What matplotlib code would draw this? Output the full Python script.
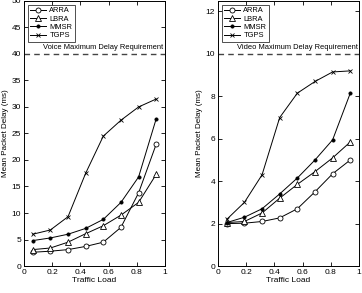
import matplotlib
matplotlib.use("Agg")
import matplotlib.pyplot as plt

plt.rcParams['font.family'] = ['Liberation Sans', 'DejaVu Sans']

loads = [0.0625, 0.1875, 0.3125, 0.4375, 0.5625, 0.6875, 0.8125, 0.9375]
series_names = ["ARRA", "LBRA", "MMSR", "TGPS"]

voice_arra = [2.6, 2.8, 3.1, 3.7, 4.5, 7.3, 13.8, 23.0]
voice_lbra = [3.1, 3.4, 4.5, 6.1, 7.6, 9.6, 12.0, 17.3]
voice_mmsr = [4.8, 5.3, 6.0, 7.1, 8.8, 12.0, 16.8, 27.8]
voice_tgps = [6.0, 6.8, 9.3, 17.5, 24.5, 27.5, 30.0, 31.5]

video_arra = [2.0, 2.02, 2.1, 2.27, 2.7, 3.5, 4.35, 5.0]
video_lbra = [2.05, 2.1, 2.5, 3.2, 3.85, 4.45, 5.1, 5.85]
video_mmsr = [2.05, 2.3, 2.7, 3.4, 4.15, 5.0, 5.95, 8.15]
video_tgps = [2.2, 3.0, 4.3, 7.0, 8.15, 8.7, 9.15, 9.2]

voice_req = 40
video_req = 10

styles = {
    "ARRA": dict(marker='o', mfc='white', ms=3.6),
    "LBRA": dict(marker='^', mfc='white', ms=3.8),
    "MMSR": dict(marker='o', mfc='black', ms=2.3),
    "TGPS": dict(marker='x', mfc='black', ms=2.3),
}

fig = plt.figure(figsize=(3.62, 2.93), dpi=100)
ax1 = fig.add_axes([0.066, 0.092, 0.390, 0.905])
ax2 = fig.add_axes([0.602, 0.092, 0.390, 0.905])

def draw(ax, data, req, ylim, yticks, reqtext, sub):
    for name, vals in zip(series_names, data):
        ax.plot(loads, vals, color='black', lw=0.7, mec='black', mew=0.6,
                label=name, **styles[name])
    ax.axhline(req, color='#444444', ls=(0, (4, 3)), lw=1.0)
    ax.text(0.56, req + ylim[1] * 0.012, reqtext, ha='center', va='bottom', fontsize=5.4)
    ax.set_xlim(0, 1)
    ax.set_ylim(*ylim)
    ax.set_yticks(yticks)
    ax.set_xticks([0, 0.2, 0.4, 0.6, 0.8, 1])
    ax.set_xticklabels(['0', '0.2', '0.4', '0.6', '0.8', '1'])
    ax.tick_params(labelsize=6, direction='in', length=3, width=0.6, top=True, right=True, pad=2)
    for s in ax.spines.values():
        s.set_linewidth(0.7)
    ax.set_xlabel("Traffic Load", fontsize=6, labelpad=1)
    ax.set_ylabel("Mean Packet Delay (ms)", fontsize=5.8, labelpad=2)
    ax.text(0.5, -0.105, sub, transform=ax.transAxes, ha='center', va='top', fontsize=6)
    leg = ax.legend(loc='upper left', fontsize=5.4, frameon=True, fancybox=False,
                    edgecolor='black', handlelength=2.2, borderpad=0.3, labelspacing=0.15,
                    handletextpad=0.4, borderaxespad=0.5)
    leg.get_frame().set_linewidth(0.6)

draw(ax1, [voice_arra, voice_lbra, voice_mmsr, voice_tgps], voice_req, (0, 50),
     [0, 5, 10, 15, 20, 25, 30, 35, 40, 45, 50], "Voice Maximum Delay Requirement", "(a)")
draw(ax2, [video_arra, video_lbra, video_mmsr, video_tgps], video_req, (0, 12.5),
     [0, 2, 4, 6, 8, 10, 12], "Video Maximum Delay Requirement", "(b)")

fig.savefig("out.png", dpi=100)
